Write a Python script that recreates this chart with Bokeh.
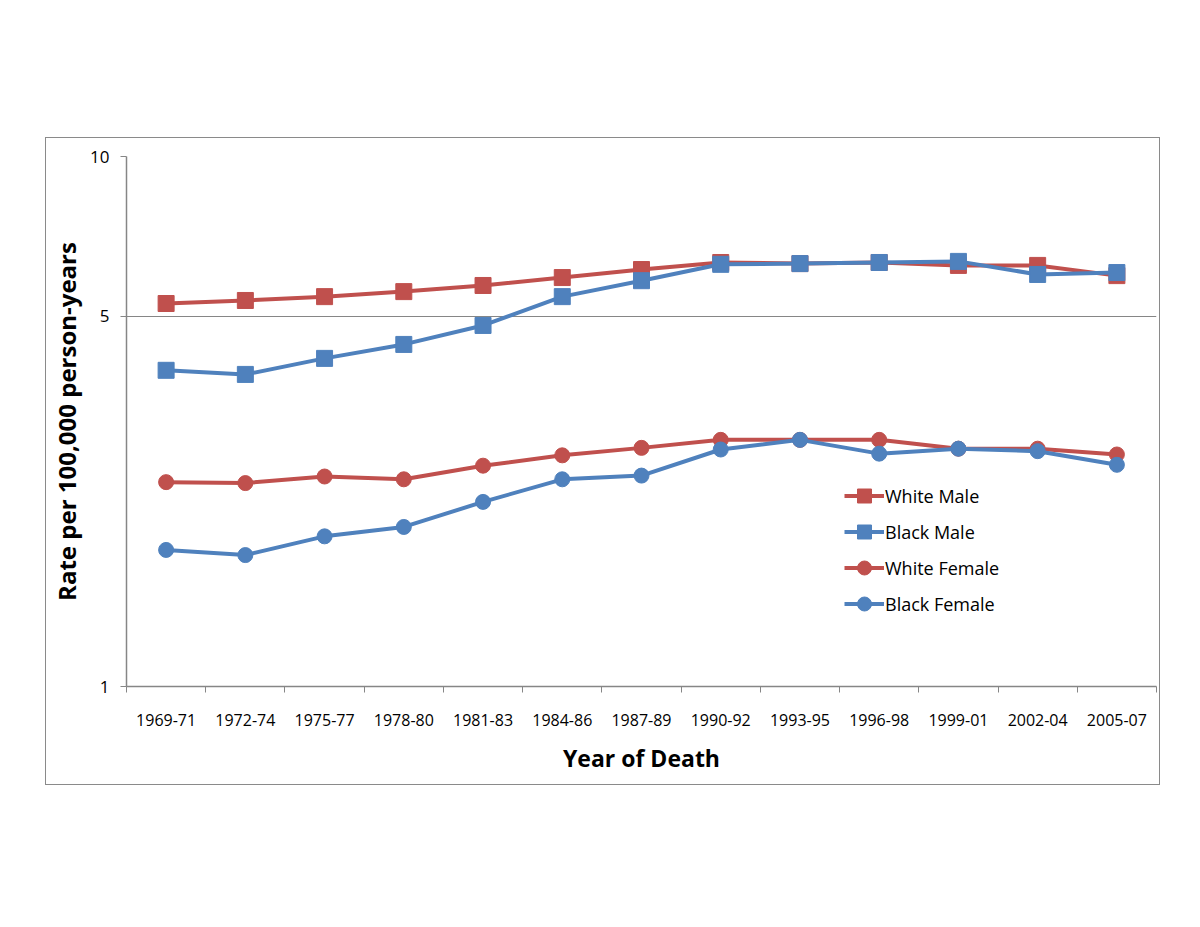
from bokeh.plotting import figure
from bokeh.models import Range1d, FixedTicker, Legend, LegendItem
from bokeh.embed import file_html
from bokeh.resources import INLINE

periods = ["1969-71", "1972-74", "1975-77", "1978-80", "1981-83", "1984-86", "1987-89",
           "1990-92", "1993-95", "1996-98", "1999-01", "2002-04", "2005-07"]
white_male = [5.28, 5.35, 5.44, 5.56, 5.71, 5.91, 6.12, 6.31, 6.28, 6.31, 6.23, 6.23, 5.96]
black_male = [3.95, 3.88, 4.16, 4.42, 4.80, 5.44, 5.83, 6.26, 6.28, 6.31, 6.34, 5.99, 6.04]
white_female = [2.43, 2.42, 2.49, 2.46, 2.61, 2.73, 2.82, 2.92, 2.92, 2.92, 2.81, 2.81, 2.74]
black_female = [1.81, 1.77, 1.92, 2.00, 2.23, 2.46, 2.50, 2.80, 2.92, 2.75, 2.81, 2.78, 2.62]
y_ticks = [1, 5, 10]

RED = "#C0504D"
BLUE = "#4F81BD"
GRAY = "#868686"
FONT = "Open Sans"

x = [i + 0.5 for i in range(len(periods))]

p = figure(width=1115, height=648, y_axis_type="log",
           x_range=Range1d(0, len(periods)), y_range=Range1d(1, 10),
           output_backend="svg", toolbar_location=None,
           min_border_left=80, min_border_right=5, min_border_top=18, min_border_bottom=100)
p.styles = {"border": "1px solid #8a8a8a", "margin-left": "45px", "margin-top": "137px"}
p.outline_line_color = None
p.background_fill_color = "white"
p.border_fill_color = "white"

# x axis
p.xaxis.ticker = FixedTicker(ticks=x, minor_ticks=list(range(len(periods) + 1)))
p.xaxis.major_label_overrides = {xv: lab for xv, lab in zip(x, periods)}
p.xaxis.major_tick_line_color = None
p.xaxis.minor_tick_line_color = GRAY
p.xaxis.minor_tick_out = 6
p.xaxis.minor_tick_in = 0
p.xaxis.axis_line_color = GRAY
p.xaxis.axis_line_width = 1.5
p.xaxis.major_label_text_font = FONT
p.xaxis.major_label_text_font_size = "16px"
p.xaxis.major_label_text_color = "black"
p.xaxis.major_label_standoff = 21
p.xaxis.axis_label = "Year of Death"
p.xaxis.axis_label_text_font = FONT
p.xaxis.axis_label_text_font_size = "23px"
p.xaxis.axis_label_text_font_style = "bold"
p.xaxis.axis_label_text_color = "black"
p.xaxis.axis_label_standoff = 13

# y axis
p.yaxis.ticker = FixedTicker(ticks=y_ticks, minor_ticks=[])
p.yaxis.major_label_overrides = {t: str(t) for t in y_ticks}
p.yaxis.major_tick_line_color = GRAY
p.yaxis.major_tick_out = 6
p.yaxis.major_tick_in = 0
p.yaxis.axis_line_color = GRAY
p.yaxis.axis_line_width = 1.5
p.yaxis.major_label_text_font = FONT
p.yaxis.major_label_text_font_size = "17px"
p.yaxis.major_label_text_color = "black"
p.yaxis.major_label_standoff = 11
p.yaxis.axis_label = "Rate per 100,000 person-years"
p.yaxis.axis_label_text_font = FONT
p.yaxis.axis_label_text_font_size = "24px"
p.yaxis.axis_label_text_font_style = "bold"
p.yaxis.axis_label_text_color = "black"
p.yaxis.axis_label_standoff = 4

p.xgrid.grid_line_color = None
p.ygrid.ticker = FixedTicker(ticks=[5])
p.ygrid.grid_line_color = GRAY
p.ygrid.grid_line_width = 1.2

items = []
for name, ys, color, marker, size in [
    ("White Male", white_male, RED, "square", 16),
    ("Black Male", black_male, BLUE, "square", 16),
    ("White Female", white_female, RED, "circle", 15),
    ("Black Female", black_female, BLUE, "circle", 15),
]:
    l = p.line(x, ys, line_color=color, line_width=4)
    s = p.scatter(x, ys, marker=marker, size=size, fill_color=color, line_color=color)
    items.append(LegendItem(label=name, renderers=[l, s]))

legend = Legend(items=items, location=(718, 65), border_line_color=None,
                background_fill_alpha=0, glyph_width=40, glyph_height=35,
                label_text_font=FONT, label_text_font_size="18px", label_standoff=1,
                label_text_color="black", spacing=1, padding=0, margin=0)
p.add_layout(legend)

open("out.html", "w").write(file_html(p, INLINE))
